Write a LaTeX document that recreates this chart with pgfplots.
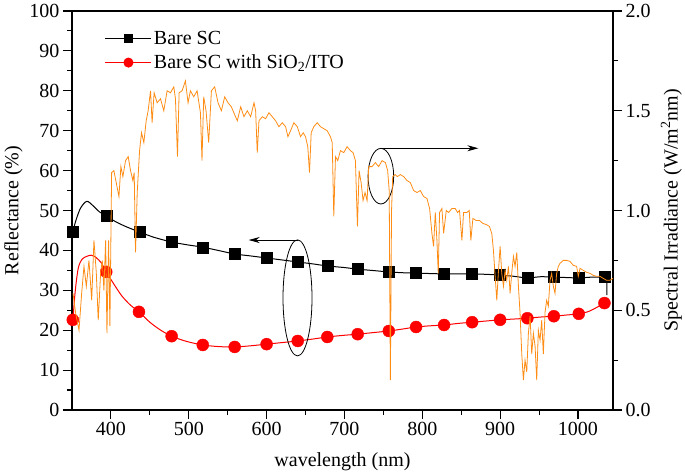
\documentclass[border=0pt]{standalone}
\usepackage{pgfplots}
\pgfplotsset{compat=1.18}
\usepackage{fontspec}
\setmainfont{Liberation Serif}
\usetikzlibrary{arrows.meta}
\definecolor{sunorange}{RGB}{255,140,20}
\pgfplotsset{
  common/.style={
    scale only axis, width=541pt, height=399pt,
    at={(0,0)}, anchor=south west,
    xmin=350, xmax=1045, clip=false,
    tick align=outside,
    major tick length=9pt, minor tick length=5pt,
    axis line style={line width=1.1pt},
    every tick/.style={black, line width=1.1pt},
    every minor tick/.style={black, line width=1.1pt},
    font=\fontsize{20}{24}\selectfont,
    tick label style={font=\fontsize{20}{24}\selectfont},
    label style={font=\fontsize{20}{24}\selectfont},
    /pgf/number format/assume math mode=true,
    /pgf/number format/1000 sep={},
  }
}
\begin{document}
\begin{tikzpicture}
\useasboundingbox (-72pt,-66pt) rectangle (613pt,410pt);
\begin{axis}[common,
  ymin=0, ymax=100,
  ytick={0,10,...,100}, minor y tick num=1,
  xtick={400,500,...,1000}, minor x tick num=1,
  xtick pos=left, ytick pos=left,
  xlabel={wavelength (nm)},
  ylabel={Reflectance (\%)},
  xlabel style={at={(axis description cs:0.5,-0.13)}, anchor=center},
  ylabel style={at={(axis description cs:-0.108,0.5)}, anchor=center},
  legend style={draw=none, fill=none, at={(axis description cs:0.055,0.96)}, anchor=north west,
    font=\fontsize{20}{24}\selectfont, row sep=5pt, cells={anchor=west}},
  legend image code/.code={\draw[mark repeat=2,mark phase=2,#1] plot coordinates {(0pt,0pt)(23pt,0pt)(46pt,0pt)};},
]
\addlegendimage{black, line width=1pt, mark=square*, mark size=4pt}
\addlegendentry{Bare SC}
\addlegendimage{red, line width=1pt, mark=*, mark size=4.5pt}
\addlegendentry{Bare SC with SiO\textsubscript{2}/ITO}

% Bare SC line
\addplot[black, line width=1pt, smooth, tension=0.5, forget plot] coordinates {
(351,44.6)(355,47.5)(361,50.6)(369,52.3)(377,51.2)(385,49.7)(394,48.6)(406,47.2)(420,45.9)(437,44.6)(455,43.3)(478,42.1)(498,41.4)(518,40.8)(540,39.9)(559,39.1)(580,38.6)(600,38.1)(620,37.6)(640,37.1)(660,36.6)(678,36.1)(700,35.7)(717,35.3)(740,34.9)(757,34.6)(775,34.4)(792,34.3)(810,34.2)(828,34.1)(846,34.1)(864,34.1)(882,34.0)(900,33.8)(918,33.5)(935,33.1)(952,33.4)(969,33.3)(985,33.2)(1001,33.1)(1018,33.3)(1034,33.3)};
\addplot[black, line width=1pt, forget plot] coordinates {(1034,33.3)(1037,33.2)(1037,28.8)};
\addplot[black, only marks, mark=square*, mark size=5.5pt, forget plot] coordinates {
(351,44.6)(394,48.6)(437,44.6)(478,42.1)(518,40.8)(559,39.1)(600,38.1)(640,37.1)(678,36.1)(717,35.3)(757,34.6)(792,34.3)(828,34.1)(864,34.1)(900,33.8)(935,33.1)(969,33.3)(1001,33.1)(1034,33.3)};

% Bare SC with SiO2/ITO line
\addplot[red, line width=1pt, smooth, tension=0.5, forget plot] coordinates {
(351,22.0)(354,29.5)(358,35.5)(363,37.8)(369,38.5)(375,38.8)(381,38.2)(388,36.8)(394,34.6)(404,31.5)(414,28.6)(425,26.3)(436,24.6)(450,22.0)(464,20.0)(478,18.5)(497,17.2)(518,16.3)(538,15.9)(559,15.8)(580,16.1)(600,16.5)(620,16.9)(640,17.3)(660,17.8)(678,18.3)(698,18.7)(717,19.0)(737,19.4)(757,19.8)(775,20.3)(792,20.8)(810,21.1)(828,21.3)(846,21.7)(864,22.0)(882,22.3)(900,22.6)(918,22.8)(935,23.0)(952,23.3)(969,23.5)(985,23.8)(1001,24.1)(1015,24.8)(1034,26.8)};
\addplot[red, only marks, mark=*, mark size=6pt, forget plot] coordinates {
(351,22.6)(394,34.6)(436,24.6)(478,18.5)(518,16.3)(559,15.8)(600,16.5)(640,17.3)(678,18.3)(717,19.0)(757,19.8)(792,20.8)(828,21.3)(864,22.0)(900,22.6)(935,23.0)(969,23.5)(1001,24.1)(1034,26.8)};

% annotations
\draw[line width=0.8pt] (axis cs:639.7,28.1) ellipse [x radius=14.5pt, y radius=58pt];
\draw[line width=0.8pt, -{Stealth[length=11pt,width=6pt]}] (axis cs:640,42.6) -- (axis cs:577,42.6);
\draw[line width=0.8pt] (axis cs:746.8,58.6) ellipse [x radius=12.8pt, y radius=27.8pt];
\draw[line width=0.8pt, -{Stealth[length=11pt,width=6pt]}] (axis cs:746.2,65.6) -- (axis cs:872,65.6);
\end{axis}

\begin{axis}[common,
  ymin=0, ymax=2,
  axis x line=none, axis y line*=right,
  ytick={0,0.5,...,2}, minor y tick num=1,
  yticklabel style={/pgf/number format/.cd, fixed, fixed zerofill, precision=1},
  ylabel={Spectral Irradiance (W/m\textsuperscript{2}nm)},
  ylabel style={at={(axis description cs:1.108,0.5)}, anchor=center},
]
\addplot[sunorange, line width=0.8pt] coordinates {
(351.3,0.585)(354.7,0.485)(359,0.40)(362.4,0.585)(365.4,0.72)(368.4,0.62)(371.8,0.75)(375.3,0.55)(378.2,0.85)(381.2,0.69)(383.7,0.45)(386.8,0.69)(388.9,0.75)(391,0.60)(393.2,0.85)(394.9,0.385)(397,0.85)(398.7,0.42)(400.9,1.19)(403.8,1.20)(406.8,1.14)(410.3,1.07)(412.8,1.22)(415.4,1.17)(418.8,1.25)(422.2,1.27)(425.2,1.20)(428.2,1.15)(429.9,1.19)(431.6,0.79)(433.8,1.09)(436.8,1.30)(439.3,1.39)(442.3,1.34)(445.3,1.45)(447.8,1.50)(450.9,1.60)(452.9,1.44)(455.5,1.59)(459.4,1.54)(463.7,1.56)(467.9,1.50)(472.2,1.60)(476.5,1.59)(480.8,1.62)(482.9,1.56)(485.5,1.27)(487.6,1.59)(491.4,1.60)(495.7,1.65)(499.1,1.54)(502.1,1.60)(506.4,1.57)(510.7,1.60)(515,1.49)(517,1.25)(519.2,1.57)(522.2,1.50)(525.6,1.34)(529.1,1.60)(533.3,1.62)(537.6,1.54)(541.9,1.50)(546.2,1.57)(550.4,1.54)(554.7,1.52)(559,1.48)(562.4,1.45)(566.7,1.52)(570.9,1.47)(575.2,1.50)(579.5,1.47)(583.8,1.54)(585.9,1.50)(588,1.29)(590.2,1.45)(594.5,1.47)(598.7,1.46)(603,1.49)(607.3,1.47)(611.5,1.45)(615.8,1.42)(620.1,1.44)(624.4,1.42)(627.4,1.37)(630.8,1.40)(635,1.44)(639.4,1.42)(643.6,1.37)(647,1.39)(650,1.37)(652.9,1.32)(655.1,1.19)(657.3,1.39)(660.6,1.42)(665,1.44)(669.2,1.42)(673.5,1.41)(677.8,1.40)(682,1.37)(684.3,1.34)(686.3,0.97)(688.5,1.27)(691.4,1.25)(694.9,1.30)(699.1,1.29)(703.4,1.32)(707.7,1.30)(711.1,1.29)(714.1,1.25)(716.7,0.92)(718.8,1.20)(721.4,1.14)(723.9,1.05)(726.5,1.09)(729.1,1.05)(731.2,1.22)(735.5,1.22)(739.7,1.24)(744,1.22)(748.3,1.25)(752.6,1.24)(755.5,1.20)(757.5,1.10)(759,0.15)(760.5,1.0)(762,1.17)(765,1.18)(768,1.17)(771.8,1.18)(776.1,1.17)(780.4,1.15)(784.6,1.14)(788.9,1.10)(793.2,1.09)(797.4,1.10)(801.7,1.07)(806,1.06)(809.4,1.01)(812.4,0.885)(814.5,0.82)(816.7,0.99)(818.8,0.85)(820.5,0.685)(822.2,0.99)(825.2,1.01)(827.4,0.885)(830.8,1.00)(833.8,0.99)(838.1,1.01)(842.3,1.01)(845.3,0.99)(847.8,1.00)(850.9,0.85)(853,0.99)(857.3,0.99)(860.3,1.00)(862.4,0.85)(865,0.96)(869.2,0.95)(873.5,0.95)(877.8,0.935)(882,0.93)(886.3,0.92)(889.3,0.885)(891.4,0.80)(893.6,0.67)(895.7,0.55)(897.9,0.70)(900,0.82)(902.1,0.685)(904.3,0.62)(906.4,0.70)(908.5,0.65)(910.7,0.72)(912.8,0.585)(914.9,0.685)(917.1,0.77)(919.2,0.72)(921.4,0.79)(923.5,0.62)(925.6,0.485)(927.8,0.28)(929.9,0.15)(932,0.25)(934.2,0.19)(936.3,0.385)(938.5,0.47)(940.6,0.28)(942.7,0.385)(944.9,0.32)(947,0.15)(949.1,0.40)(951.3,0.35)(953.4,0.45)(955.5,0.28)(957.7,0.49)(959.8,0.55)(961.9,0.52)(964.1,0.65)(966.2,0.685)(968.4,0.62)(970.5,0.585)(972.6,0.685)(974.8,0.72)(976.9,0.735)(981.2,0.75)(985.5,0.75)(989.7,0.745)(994,0.725)(998.3,0.72)(1000.4,0.67)(1002.6,0.71)(1006.8,0.70)(1011.1,0.69)(1015.4,0.685)(1019.6,0.675)(1023.9,0.67)(1028.2,0.67)(1032.4,0.66)(1036.7,0.65)(1041,0.65)(1045,0.66)};
\end{axis}
\end{tikzpicture}
\end{document}
